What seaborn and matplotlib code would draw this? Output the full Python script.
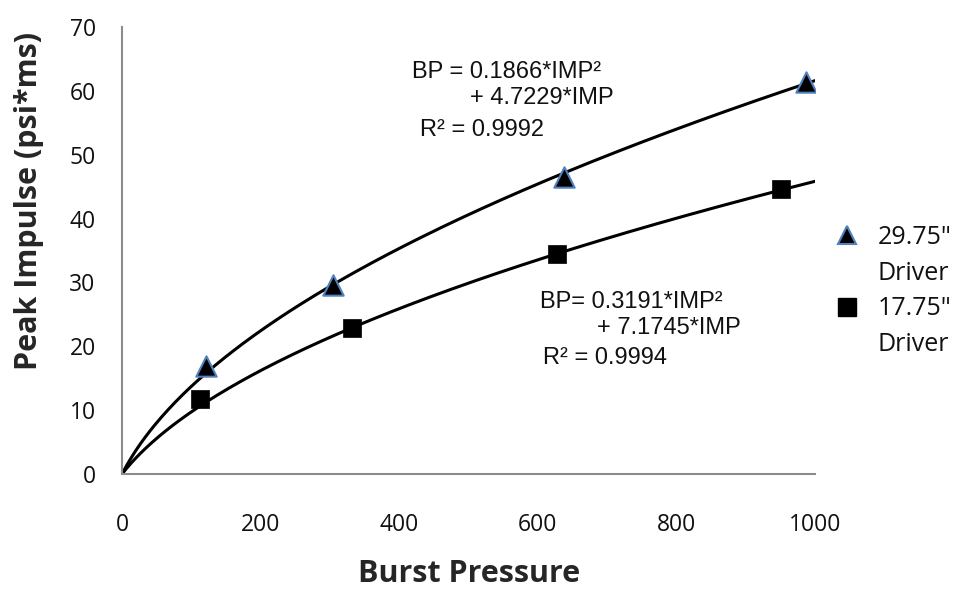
import numpy as np
import pandas as pd
import seaborn as sns
import matplotlib.pyplot as plt
from matplotlib.lines import Line2D

sns.set_style("white")
plt.rcParams['font.family'] = ['Open Sans', 'DejaVu Sans']

# data
bp_2975 = [121, 304, 637, 987]
imp_2975 = [16.9, 29.6, 46.5, 61.4]
bp_1775 = [113, 332, 627, 950]
imp_1775 = [11.7, 22.8, 34.5, 44.7]

# trendline coefficients as printed on the chart (BP = a*IMP^2 + b*IMP)
a_2975, b_2975 = 0.1866, 4.7229
a_1775, b_1775 = 0.3191, 7.1745

x_ticks = [0, 200, 400, 600, 800, 1000]
y_ticks = [0, 10, 20, 30, 40, 50, 60, 70]
legend_labels = ['29.75"', 'Driver', '17.75"', 'Driver']


def trend(a, b, bp):
    # solve the quadratic for IMP
    return (-b + np.sqrt(b * b + 4 * a * bp)) / (2 * a)


bp_line = np.linspace(0, 1000, 300)
fit = pd.DataFrame({
    'bp': bp_line,
    'imp_2975': trend(a_2975, b_2975, bp_line),
    'imp_1775': trend(a_1775, b_1775, bp_line),
})

fig = plt.figure(figsize=(9.64, 5.91), dpi=100)
ax = fig.add_axes([0.1266, 0.198, 0.719, 0.756])

sns.lineplot(data=fit, x='bp', y='imp_2975', color='black', lw=2.2, ax=ax)
sns.lineplot(data=fit, x='bp', y='imp_1775', color='black', lw=2.2, ax=ax)
sns.scatterplot(x=bp_2975, y=imp_2975, marker='^', s=215, color='black',
                edgecolor='#4F81BD', linewidth=1.5, ax=ax, zorder=5)
sns.scatterplot(x=bp_1775, y=imp_1775, marker='s', s=175, color='black',
                edgecolor='black', linewidth=0.5, ax=ax, zorder=5)

ax.set_xlim(0, 1000)
ax.set_ylim(0, 70)
ax.set_xticks(x_ticks)
ax.set_yticks(y_ticks)
ax.tick_params(axis='both', length=0, labelsize=16.5, labelcolor='#111111')
ax.tick_params(axis='x', pad=28)
ax.tick_params(axis='y', pad=19)
for s in ['top', 'right']:
    ax.spines[s].set_visible(False)
for s in ['left', 'bottom']:
    ax.spines[s].set_color('#8c8c8c')
    ax.spines[s].set_linewidth(1.5)

ax.set_xlabel('Burst Pressure', fontsize=22, fontweight='bold')
ax.set_ylabel('Peak Impulse (psi*ms)', fontsize=22, fontweight='bold')
ax.xaxis.set_label_coords(0.5, -0.19)
ax.yaxis.set_label_coords(-0.113, 0.61)

# equation annotations (pixel positions from the top-left)
eq_font = ['Liberation Sans', 'DejaVu Sans']
eq_kw = dict(fontsize=17, family=eq_font, va='center', color='#111111')
fig.text(412 / 964, 1 - 72 / 591, 'BP = 0.1866*IMP²', **eq_kw)
fig.text(470 / 964, 1 - 98 / 591, '+ 4.7229*IMP', **eq_kw)
fig.text(420 / 964, 1 - 130 / 591, 'R² = 0.9992', **eq_kw)
fig.text(540 / 964, 1 - 302 / 591, 'BP= 0.3191*IMP²', **eq_kw)
fig.text(597 / 964, 1 - 328 / 591, '+ 7.1745*IMP', **eq_kw)
fig.text(543 / 964, 1 - 358 / 591, 'R² = 0.9994', **eq_kw)

handles = [
    Line2D([], [], ls='none', marker='^', ms=13, mfc='black', mec='#4F81BD', mew=1.5),
    Line2D([], [], ls='none'),
    Line2D([], [], ls='none', marker='s', ms=13, mfc='black', mec='black'),
    Line2D([], [], ls='none'),
]
fig.legend(handles, legend_labels, loc='upper left',
           bbox_to_anchor=(834 / 964, 1 - 225 / 591),
           frameon=False, fontsize=18, handlelength=1.0, handletextpad=0.74,
           labelspacing=0.43, borderpad=0, borderaxespad=0,
           labelcolor='#111111')

fig.savefig('out.png', dpi=100)
